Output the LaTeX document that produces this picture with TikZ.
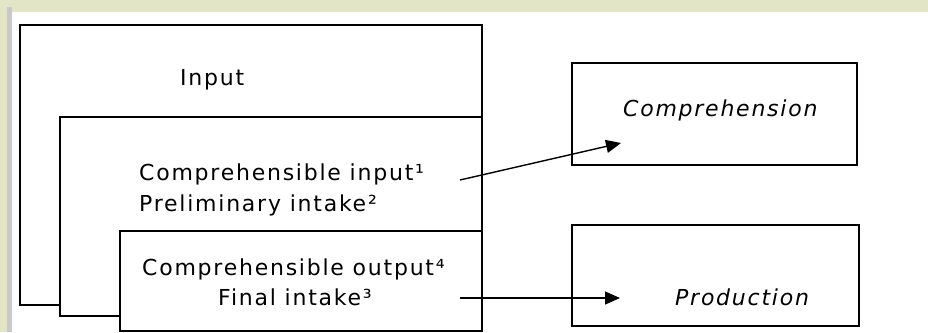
\documentclass[tikz,border=0pt]{standalone}
\usepackage{fontspec}
\setmainfont{DejaVu Sans}[LetterSpace=8]
\usetikzlibrary{arrows.meta}
\definecolor{bandgreen}{HTML}{E2E5C6}
\definecolor{bandgray}{HTML}{C9C9C9}

\begin{document}
\begin{tikzpicture}[x=1pt, y=-1pt, line join=miter,
  box/.style={draw, line width=2pt, fill=white, inner sep=0pt, anchor=north west},
  txt/.style={font=\fontsize{22}{26}\selectfont, inner sep=0pt, anchor=base west},
  flow/.style={line width=1.4pt, -{Triangle[length=15pt,width=13pt]}}]
  % page and frame bands
  \fill[white] (0,0) rectangle (928,332);
  \fill[bandgreen] (0,0) rectangle (928,12);
  \fill[bandgreen] (0,0) rectangle (7,332);
  \fill[bandgray] (7,7) rectangle (12,332);
  % nested boxes, each one over the last
  \node[box, minimum width=462pt, minimum height=280pt] (inputbox) at (19,24) {};
  \node[box, minimum width=422pt, minimum height=199pt] (intakebox) at (59,116) {};
  \node[box, minimum width=362pt, minimum height=100pt] (outputbox) at (119,230) {};
  \node[txt] (inputtxt) at (180,85) {Input};
  \node[txt] (citxt) at (139,180) {Comprehensible input¹};
  \node[txt] (pitxt) at (139,211) {Preliminary intake²};
  \node[txt] (cotxt) at (142,275) {Comprehensible output⁴};
  \node[txt] (fitxt) at (218,305) {Final intake³};
  % right hand boxes
  \node[box, minimum width=285pt, minimum height=102pt] (compbox) at (571,62) {};
  \node[box, minimum width=287pt, minimum height=101pt] (prodbox) at (571,224) {};
  \node[txt, font=\fontsize{22}{26}\selectfont\itshape] (comptxt) at (623,116) {Comprehension};
  \node[txt, font=\fontsize{22}{26}\selectfont\itshape] (prodtxt) at (675,305) {Production};
  % arrows
  \coordinate (compfrom) at (460,180);
  \coordinate (compto) at (621,143);
  \coordinate (prodfrom) at (460,298);
  \coordinate (prodto) at (620,298);
  \draw[flow] (compfrom) -- (compto);
  \draw[flow] (prodfrom) -- (prodto);
\end{tikzpicture}
\end{document}
